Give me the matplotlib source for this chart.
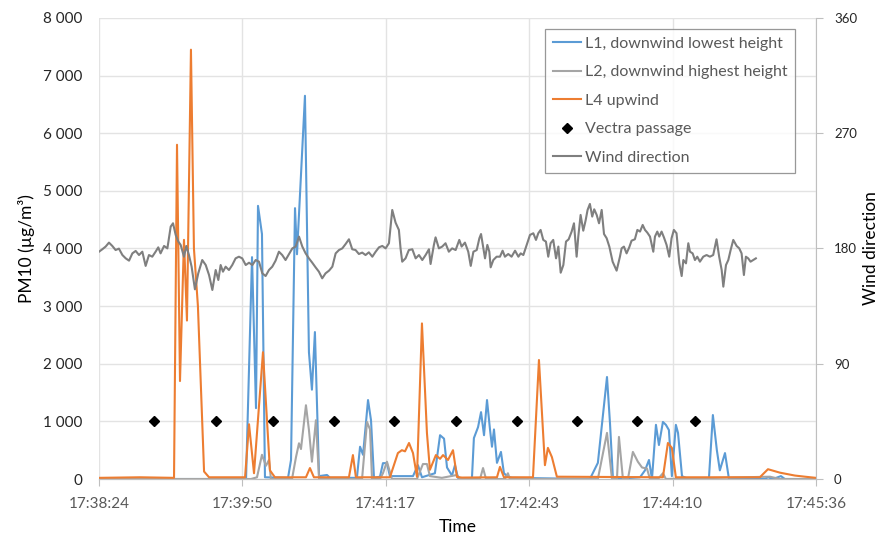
import matplotlib.pyplot as plt
import numpy as np

# time axis: seconds after 17:38:24
START_S = 17 * 3600 + 38 * 60 + 24
SPAN_S = 432

l1_t = [0, 88.6, 92.2, 94.6, 95.8, 98.2, 100.0, 113.9, 115.7, 118.1, 119.3, 124.1,
        126.5, 128.3, 130.1, 132.6, 137.4, 139.2, 155.4, 157.3, 159.1, 162.1, 163.9,
        165.7, 169.3, 171.1, 173.5, 175.3, 189.2, 192.2, 194.6, 202.4, 205.5, 207.9,
        209.7, 212.7, 214.5, 216.3, 224.7, 225.9, 228.4, 230.2, 232.0, 233.8, 235.6,
        236.8, 238.0, 239.8, 242.2, 244.0, 246.4, 248.8, 295.8, 300.6, 306.1, 307.9,
        309.7, 326.0, 329.0, 331.4, 333.2, 335.6, 337.4, 339.8, 341.6, 343.4, 345.2,
        347.6, 348.9, 351.3, 354.9, 367.5, 369.9, 372.3, 374.1, 377.2, 379.6, 401.3,
        403.1, 406.1, 410.9, 413.3, 432]
l1_v = [0, 0, 3850, 1230, 4740, 4250, 30, 20, 330, 4700, 3900, 6650,
        2200, 1550, 2550, 50, 70, 20, 20, 560, 420, 1370, 1020,
        20, 40, 275, 275, 50, 50, 240, 30, 100, 760, 700,
        200, 60, 240, 20, 0, 710, 900, 1160, 760, 1370, 860,
        560, 860, 280, 470, 100, 40, 20, 0, 280, 1770, 970,
        0, 30, 150, 330, 0, 940, 590, 990, 940, 850, 50,
        940, 800, 50, 0, 0, 1110, 500, 150, 450, 0, 0,
        30, 0, 50, 0, 0]

l2_t = [0, 91.6, 95.2, 98.2, 100.6, 102.4, 103.6, 116.3, 118.7, 120.5, 121.7, 124.7,
        126.5, 128.3, 130.7, 132.6, 158.5, 161.5, 163.3, 164.5, 169.3, 171.1, 173.5,
        176.5, 191.6, 195.2, 197.6, 199.4, 206.6, 215.7, 217.5, 229.6, 231.4, 233.2,
        244.6, 246.4, 247.6, 300.6, 306.1, 309.1, 312.1, 313.3, 315.7, 318.7, 321.7,
        324.7, 327.2, 330.2, 332.0, 336.8, 339.8, 341.6, 404.3, 410.3, 432]
l2_v = [0, 0, 30, 420, 230, 330, 0, 0, 380, 620, 520, 1280,
        850, 300, 1020, 0, 0, 990, 860, 0, 0, 100, 300,
        0, 0, 260, 260, 50, 20, 70, 0, 0, 190, 0,
        0, 100, 0, 0, 800, 0, 0, 730, 0, 0, 470,
        300, 200, 180, 0, 0, 100, 0, 40, 0, 0]

l4_t = [0, 24.7, 45.2, 47.0, 48.8, 51.2, 53.0, 55.4, 57.2, 59.6, 63.3, 66.3,
        88.0, 90.4, 93.4, 98.8, 103.0, 106.0, 124.7, 127.1, 129.5, 150.6, 153.0,
        154.8, 175.3, 180.1, 182.5, 184.4, 186.8, 189.2, 191.6, 194.6, 197.6, 199.4,
        203.0, 205.5, 207.3, 210.3, 213.3, 215.7, 218.7, 239.8, 241.6, 244.0, 261.5,
        265.1, 268.7, 270.5, 272.9, 275.9, 339.8, 342.8, 345.2, 347.6, 398.2, 403.1,
        410.3, 419.3, 425.4, 432]
l4_v = [20, 30, 20, 5800, 1700, 4150, 2750, 7450, 4000, 3000, 130, 30,
        30, 950, 100, 2200, 150, 30, 30, 190, 30, 30, 415,
        30, 30, 450, 500, 480, 625, 450, 40, 2700, 800, 160,
        415, 350, 415, 330, 500, 35, 25, 30, 210, 30, 30,
        2065, 240, 540, 380, 40, 30, 625, 540, 30, 30, 170,
        110, 60, 40, 20]

vectra_t = [33.1, 70.3, 104.8, 141.3, 177.9, 214.9, 252.0, 288.0, 324.0, 358.9]
vectra_v = [1000] * len(vectra_t)

wind_t = [0.0, 2.0, 4.0, 6.0, 8.0, 10.0, 12.0, 14.1, 16.1, 18.1, 20.1, 22.1, 24.1,
          26.1, 28.1, 30.1, 32.1, 34.1, 35.7, 37.1, 39.2, 41.2, 43.2, 44.6, 46.2,
          47.8, 49.2, 51.2, 52.6, 54.2, 55.8, 57.8, 59.8, 62.2, 64.3, 66.3, 68.3,
          70.3, 71.9, 73.3, 74.7, 76.3, 78.3, 80.3, 82.3, 84.3, 86.3, 88.4, 90.4,
          92.4, 94.4, 96.4, 98.4, 100.4, 102.4, 104.4, 106.4, 108.4, 110.4, 112.4,
          114.5, 116.5, 118.5, 120.5, 122.5, 124.5, 126.5, 128.5, 130.5, 132.5,
          134.5, 136.5, 138.6, 140.6, 142.6, 144.6, 146.6, 148.6, 150.6, 152.6,
          154.6, 156.6, 158.6, 160.6, 162.6, 164.7, 166.7, 168.7, 170.7, 172.7,
          174.7, 176.7, 178.7, 180.7, 181.7, 182.7, 184.7, 186.7, 188.8, 190.8,
          192.8, 194.8, 196.8, 198.8, 199.8, 201.8, 202.8, 204.8, 206.8, 208.8,
          210.8, 212.8, 214.9,
          217.1, 218.5, 220.5, 222.5, 224.0, 225.6, 227.6, 229.2, 230.2, 231.6,
          232.6, 234.0, 235.2, 236.0, 237.6, 239.6, 241.6, 243.2, 244.6, 246.6,
          248.6, 250.7, 252.7, 254.1, 255.7, 257.7, 259.7, 261.7, 263.3, 264.7,
          266.1, 267.7, 269.3, 270.7, 272.1, 273.7, 275.4, 276.8, 278.2, 279.8,
          281.4, 283.0, 284.8, 286.2, 287.8, 288.8, 290.2, 291.8, 293.2, 294.4,
          295.8, 297.2, 298.4, 299.9, 301.3, 302.9, 304.3, 305.9, 307.5, 309.5,
          311.9, 313.9, 314.9, 316.3, 317.9, 319.5, 320.9, 322.9, 324.4, 326.0,
          327.6, 329.0, 330.4, 332.0, 334.0, 335.0, 336.4, 337.6, 339.0, 340.4,
          342.0, 343.6, 345.0, 346.4, 348.0, 349.7, 351.1, 352.1, 353.7, 355.1,
          356.1, 357.7, 359.1, 360.5, 362.1, 364.1, 366.1, 368.1, 370.1, 372.1,
          373.7, 375.2, 376.2, 377.8, 379.2, 380.6, 382.2, 384.2, 385.8, 387.2,
          388.6, 389.8, 391.2, 392.6, 394.2, 395.8]
wind_v = [177.5, 179.4, 181.5, 184.6, 182.0, 178.8, 179.9, 174.9, 172.3, 170.5, 176.2, 178.1, 174.9,
          177.5, 166.4, 174.9, 173.6, 177.5, 180.9, 176.2, 182.0, 180.1, 197.1, 199.7, 190.6,
          185.4, 182.8, 173.6, 182.0, 174.9, 165.8, 148.1, 160.6, 171.0, 167.1, 159.3, 147.6,
          163.2, 155.4, 167.1, 161.9, 165.8, 163.2, 167.1, 172.3, 173.6, 172.3, 167.1, 168.9,
          167.1, 171.0, 169.7, 160.6, 158.5, 163.2, 165.8, 170.5, 177.5, 174.9, 171.0,
          175.7, 180.1, 181.5, 189.3, 181.5, 176.2, 172.3, 168.9, 165.3, 161.9,
          156.7, 160.6, 162.7, 165.8, 176.2, 178.8, 180.1, 183.5, 187.2, 179.4,
          178.8, 175.7, 176.8, 174.9, 177.0, 173.6, 177.5, 180.9, 182.0, 180.1,
          184.1, 210.1, 200.2, 194.5, 180.1, 169.7, 172.3, 178.8, 179.4, 172.3,
          174.9, 171.0, 174.9, 179.4, 167.9, 182.8, 188.7, 180.1, 181.5, 184.1,
          177.5, 180.1, 178.8,
          186.7, 181.5, 184.6, 177.5, 166.4, 177.5, 178.8, 188.0, 191.3, 180.1,
          172.3, 182.8, 177.5, 165.3, 171.0, 173.6, 173.6, 178.3, 173.6, 175.7,
          173.6, 178.3, 173.6, 176.2, 174.9, 182.8, 190.6, 191.9, 186.7, 191.9,
          194.5, 186.7, 185.4, 173.6, 184.1, 186.7, 172.3, 181.5, 161.1, 167.1,
          185.4, 187.2, 193.2, 199.7, 173.6, 189.3, 206.2, 193.9, 201.8, 210.1,
          214.8, 204.9, 210.6, 206.2, 199.7, 210.1, 191.3, 188.0, 181.5, 169.7,
          162.7, 173.6, 180.1, 181.5, 176.2, 180.9, 186.1, 187.2, 194.5, 193.2,
          198.4, 194.5, 192.4, 189.3, 177.5, 189.3, 193.2, 189.3, 193.2, 188.7,
          182.8, 173.6, 188.0, 194.5, 191.9, 168.4, 158.5, 171.0, 168.4, 184.1,
          177.5, 176.2, 171.0, 173.6, 169.7, 173.6, 174.9, 173.6, 174.9, 187.2,
          173.6, 163.2, 150.2, 167.1, 171.0, 178.8, 186.7, 182.0, 180.1, 176.2,
          159.3, 173.6, 172.3, 169.7, 171.0, 172.3]

plt.rcParams["font.family"] = ["Lato", "DejaVu Sans"]

BLUE = "#5B9BD5"
LGREY = "#A5A5A5"
ORANGE = "#ED7D31"
DGREY = "#7F7F7F"
GRID = "#E3E3E3"
AXIS = "#BFBFBF"
TXT = "#595959"


def fmt_time(t):
    s = int(round(START_S + t))
    return f"{s // 3600}:{s % 3600 // 60:02d}:{s % 60:02d}"


fig = plt.figure(figsize=(8.84, 5.37), dpi=100)
ax = fig.add_axes([0.112, 0.108, 0.811, 0.8585])

ax.plot(l1_t, l1_v, color=BLUE, lw=1.5, label="L1, downwind lowest height", zorder=3)
ax.plot(l2_t, l2_v, color=LGREY, lw=1.5, label="L2, downwind highest height", zorder=3)
ax.plot(l4_t, l4_v, color=ORANGE, lw=1.5, label="L4 upwind", zorder=3)
ax.plot(vectra_t, vectra_v, ls="none", marker="D", ms=5.5, color="black",
        label="Vectra passage", zorder=4)

ax2 = ax.twinx()
ax2.plot(wind_t, wind_v, color=DGREY, lw=1.5, label="Wind direction")

ax.set_xlim(0, SPAN_S)
ax.set_ylim(0, 8000)
ax2.set_ylim(0, 360)

xt = np.linspace(0, SPAN_S, 6)
ax.set_xticks(xt)
ax.set_xticklabels([fmt_time(t) for t in xt])
ax.set_yticks(np.arange(0, 8001, 1000))
ax.set_yticklabels([f"{v:,}".replace(",", " ") for v in range(0, 8001, 1000)])
ax2.set_yticks(np.arange(0, 361, 90))

ax.grid(True, color=GRID, lw=1.0)
ax.set_axisbelow(True)

for a in (ax, ax2):
    a.spines["top"].set_visible(False)
    a.spines["left"].set_visible(False)
    a.spines["right"].set_color(AXIS)
    a.spines["bottom"].set_color(AXIS)
ax.spines["right"].set_visible(False)

ax.tick_params(axis="y", length=0, labelsize=11, colors="#262626", pad=12)
ax.tick_params(axis="x", length=5, color=AXIS, labelsize=11, labelcolor=TXT, pad=8)
ax2.tick_params(axis="y", length=5, color=AXIS, labelsize=9.5, labelcolor="#262626", pad=8)

ax.set_xlabel("Time", fontsize=12.5, labelpad=6)
ax.set_ylabel("PM10 (µg/m³)", fontsize=12.5, labelpad=6)
ax2.set_ylabel("Wind direction", fontsize=12.5, labelpad=4)

h1, lab1 = ax.get_legend_handles_labels()
h2, lab2 = ax2.get_legend_handles_labels()
leg = ax2.legend(h1 + h2, lab1 + lab2, loc="upper right", bbox_to_anchor=(0.971, 0.977),
                 fontsize=11.5, frameon=True, fancybox=False, edgecolor=DGREY,
                 handlelength=1.8, handletextpad=0.2, labelspacing=0.9,
                 borderpad=0.5, borderaxespad=0)
leg.get_frame().set_linewidth(0.9)
for t in leg.get_texts():
    t.set_color(TXT)

fig.savefig("out.png", dpi=100)
